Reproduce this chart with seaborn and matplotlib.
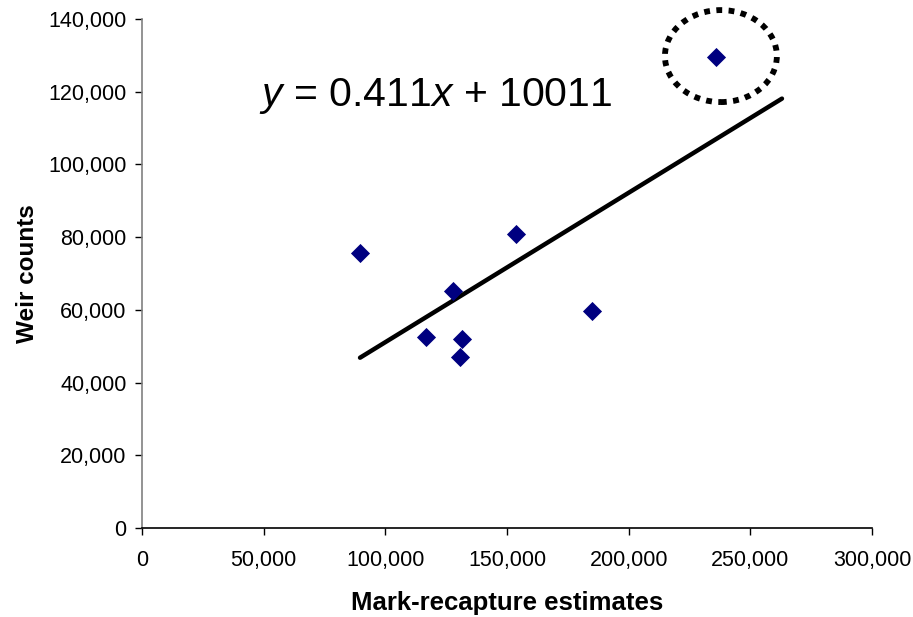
import matplotlib
matplotlib.use("Agg")
import matplotlib.pyplot as plt
import seaborn as sns
import numpy as np
import pandas as pd
from matplotlib.patches import Ellipse
from matplotlib.ticker import FuncFormatter

# Data
mark_recapture = [89600, 127900, 153700, 116700, 131600, 130700, 184800, 235900]
weir_counts = [75600, 65300, 80900, 52500, 52000, 47100, 59800, 129600]
slope = 0.411
intercept = 10011
trend_end_x = 263000
x_ticks = [0, 50000, 100000, 150000, 200000, 250000, 300000]
y_ticks = [0, 20000, 40000, 60000, 80000, 100000, 120000, 140000]
x_label = "Mark-recapture estimates"
y_label = "Weir counts"
equation = "$\\mathit{y}$ = 0.411$\\mathit{x}$ + 10011"
outlier_x = 237900
outlier_y = 129800

sns.set_style("white")
plt.rcParams['font.family'] = ['Liberation Sans', 'DejaVu Sans']
plt.rcParams['mathtext.fontset'] = 'custom'
plt.rcParams['mathtext.it'] = 'Liberation Sans:italic'
plt.rcParams['mathtext.rm'] = 'Liberation Sans'
plt.rcParams['text.color'] = 'black'
plt.rcParams['axes.labelcolor'] = 'black'
plt.rcParams['xtick.color'] = 'black'
plt.rcParams['ytick.color'] = 'black'

df = pd.DataFrame({"x": mark_recapture, "y": weir_counts})

fig = plt.figure(figsize=(9.13, 6.17), dpi=100)
ax = fig.add_axes([142/913, 1-528/617, 730/913, (528-19)/617])

# trend line
tx = np.array([min(mark_recapture), trend_end_x])
trend = pd.DataFrame({"x": tx, "y": slope*tx + intercept})
sns.lineplot(data=trend, x="x", y="y", ax=ax, color="black", linewidth=3.2,
             solid_capstyle="round", zorder=2)

sns.scatterplot(data=df, x="x", y="y", ax=ax, marker="D", s=95,
                color="#000080", edgecolor="#000080", linewidth=0, zorder=3)

ell = Ellipse((outlier_x, outlier_y), width=46000, height=25300, fill=False,
              edgecolor="black", linewidth=4.2, linestyle=(0, (1, 1.1)), zorder=4,
              clip_on=False)
ax.add_patch(ell)

ax.text(120800, 118800, equation, fontsize=29.5, ha="center", va="center",
        color="black")

ax.set_xlim(0, 300000)
ax.set_ylim(0, 140000)
ax.set_xticks(x_ticks)
ax.set_yticks(y_ticks)
fmt = FuncFormatter(lambda v, p: f"{int(v):,}")
ax.xaxis.set_major_formatter(fmt)
ax.yaxis.set_major_formatter(fmt)
ax.tick_params(axis="both", which="major", labelsize=15.5, length=5, width=1,
               color="black", labelcolor="black", direction="out", pad=6)
ax.tick_params(axis="x", bottom=True, pad=11)
ax.tick_params(axis="y", left=True, pad=6)

for s in ["top", "right"]:
    ax.spines[s].set_visible(False)
ax.spines["left"].set_color("#808080")
ax.spines["left"].set_linewidth(1.2)
ax.spines["bottom"].set_color("black")
ax.spines["bottom"].set_linewidth(1.2)

ax.set_xlabel(x_label, fontsize=18.5, fontweight="bold", labelpad=14, color="black")
ax.set_ylabel(y_label, fontsize=17.5, fontweight="bold", labelpad=7, color="black")

fig.savefig("out.png", dpi=100)
